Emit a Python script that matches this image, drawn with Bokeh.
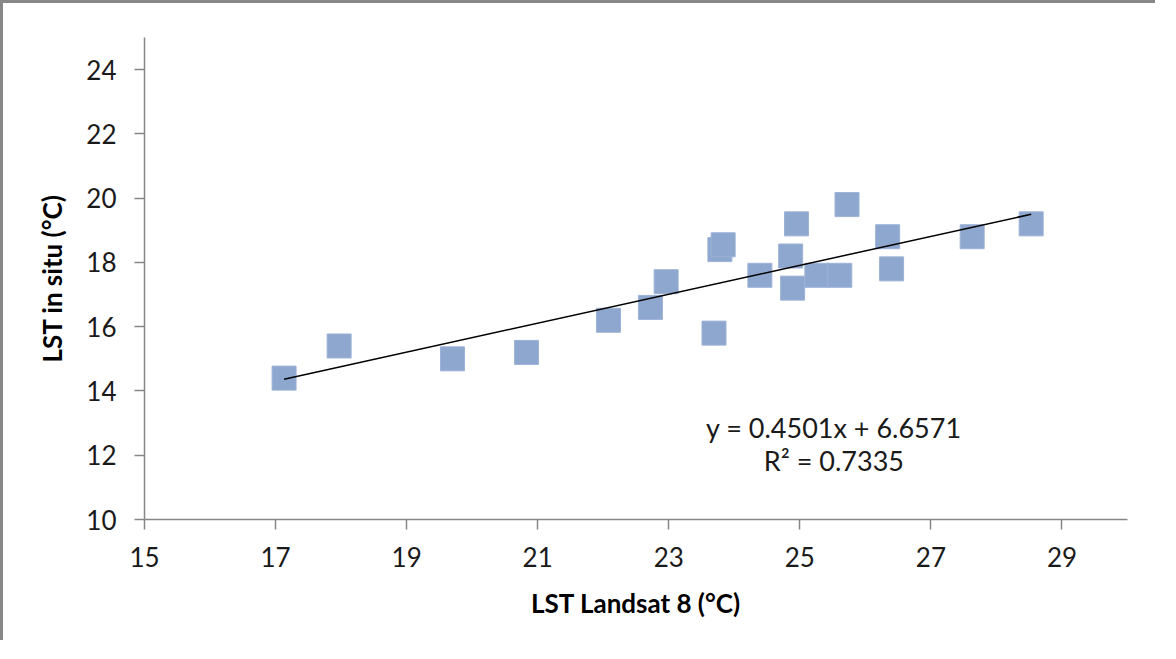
from bokeh.plotting import figure
from bokeh.models import Range1d, FixedTicker, Label
from bokeh.embed import file_html
from bokeh.resources import INLINE

# ---- data ----
lst_landsat = [17.13, 17.97, 19.70, 20.83, 22.08, 22.72, 22.96, 23.69, 23.78, 23.83,
               24.39, 24.86, 24.89, 24.95, 25.26, 25.61, 25.72, 26.34, 26.40, 27.63, 28.53]
lst_insitu = [14.4, 15.4, 15.0, 15.2, 16.2, 16.6, 17.4, 15.8, 18.4, 18.55,
              17.6, 18.2, 17.2, 19.2, 17.6, 17.6, 19.8, 18.8, 17.8, 18.8, 19.2]
slope = 0.4501
intercept = 6.6571
r_squared = 0.7335
x_ticks = [15, 17, 19, 21, 23, 25, 27, 29]
y_ticks = [10, 12, 14, 16, 18, 20, 22, 24]
x_title = "LST Landsat 8 (°C)"
y_title = "LST in situ (°C)"

FONT = "Lato"
AXIS_GRAY = "#868686"

p = figure(width=1155, height=640, output_backend="svg", toolbar_location=None,
           x_range=Range1d(15, 30), y_range=Range1d(10, 25))
p.min_border_left = 141
p.min_border_top = 34
p.min_border_right = 31
p.min_border_bottom = 124
p.outline_line_color = None
p.background_fill_color = "white"
p.border_fill_color = "white"
p.grid.visible = False
p.styles = {"border-left": "3px solid #878787", "border-top": "3px solid #878787"}

for ax in (p.xaxis[0], p.yaxis[0]):
    ax.axis_line_color = AXIS_GRAY
    ax.axis_line_width = 1.5
    ax.major_tick_line_color = AXIS_GRAY
    ax.major_tick_line_width = 1.5
    ax.major_tick_out = 10
    ax.major_tick_in = 0
    ax.minor_tick_line_color = None
    ax.major_label_text_font = FONT
    ax.major_label_text_font_size = "26px"
    ax.major_label_text_color = "#1a1a1a"
    ax.axis_label_text_font = FONT
    ax.axis_label_text_font_size = "26px"
    ax.axis_label_text_font_style = "bold"
    ax.axis_label_text_color = "black"

p.xaxis.ticker = FixedTicker(ticks=x_ticks)
p.yaxis.ticker = FixedTicker(ticks=y_ticks)
p.xaxis.axis_label = x_title
p.yaxis.axis_label = y_title
p.xaxis.major_label_standoff = 17
p.xaxis.axis_label_standoff = 17
p.yaxis.major_label_standoff = 18
p.yaxis.axis_label_standoff = 15

p.scatter(lst_landsat, lst_insitu, marker="square", size=24,
          fill_color="#8EA7CF", line_color="#9DB2D6", line_width=1)

x0, x1 = min(lst_landsat), max(lst_landsat)
p.line([x0, x1], [slope * x0 + intercept, slope * x1 + intercept],
       line_color="black", line_width=1.5)

eq_x = 25.52
p.add_layout(Label(x=eq_x, y=12.86, text=f"y = {slope:.4f}x + {intercept:.4f}",
                   text_align="center", text_baseline="middle",
                   text_font=FONT, text_font_size="27px", text_color="#1a1a1a"))
p.add_layout(Label(x=eq_x, y=11.84, text=f"R² = {r_squared:.4f}",
                   text_align="center", text_baseline="middle",
                   text_font=FONT, text_font_size="27px", text_color="#1a1a1a"))

open("out.html", "w").write(file_html(p, INLINE))
